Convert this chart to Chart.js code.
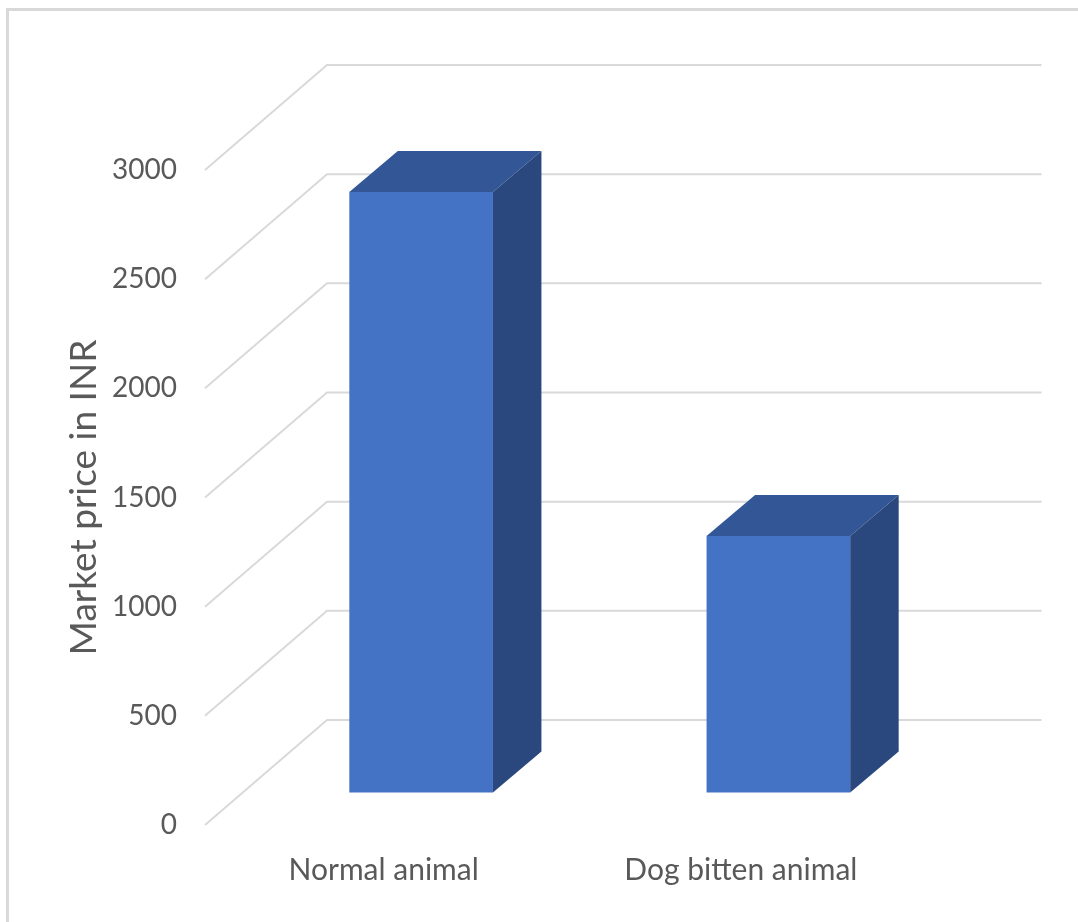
<!DOCTYPE html>
<html>
<head>
<meta charset="utf-8">
<script src="https://cdn.jsdelivr.net/npm/chart.js@4/dist/chart.umd.min.js"></script>
<style>
  html, body { margin: 0; padding: 0; background: #fff; }
  #frame { position: absolute; left: 6px; top: 8px; width: 1100px; height: 940px;
           border-top: 3px solid #d9d9d9; border-left: 3px solid #d9d9d9; }
  #wrap { position: absolute; left: 0; top: 0; width: 1078px; height: 922px; }
</style>
</head>
<body>
<div id="frame"></div>
<div id="wrap"><canvas id="chart" width="1078" height="922"></canvas></div>
<script>
// data
const categories = ['Normal animal', 'Dog bitten animal'];
const prices = [2750, 1175];
const yTicks = [0, 500, 1000, 1500, 2000, 2500, 3000];
const yTitle = 'Market price in INR';

// fake 3D: back wall offset, bar offset inside the box, bar depth
const wallDX = 122, wallDY = -105;
const barDX = 37.5, barDY = -32.5;
const sideDX = 48.5, sideDY = -41;

const textColor = '#595959';
const fontFamily = 'Lato, "Open Sans", sans-serif';

const box3d = {
  id: 'box3d',
  beforeDatasetsDraw(chart) {
    const { ctx, chartArea, scales: { y } } = chart;
    ctx.save();
    ctx.strokeStyle = '#d9d9d9';
    ctx.lineWidth = 2;
    y.ticks.forEach(t => {
      const py = y.getPixelForValue(t.value);
      ctx.beginPath();
      ctx.moveTo(chartArea.left, py);
      ctx.lineTo(chartArea.left + wallDX, py + wallDY);
      ctx.lineTo(chartArea.right + wallDX, py + wallDY);
      ctx.stroke();
    });
    ctx.restore();
    // bars sit a bit back inside the box
    ctx.save();
    ctx.translate(barDX, barDY);
  },
  afterDatasetsDraw(chart) {
    const { ctx } = chart;
    chart.getDatasetMeta(0).data.forEach(bar => {
      const { x, y, base, width } = bar.getProps(['x', 'y', 'base', 'width'], true);
      const l = x - width / 2, r = x + width / 2;
      // top face
      ctx.fillStyle = '#325696';
      ctx.beginPath();
      ctx.moveTo(l, y);
      ctx.lineTo(l + sideDX, y + sideDY);
      ctx.lineTo(r + sideDX, y + sideDY);
      ctx.lineTo(r, y);
      ctx.closePath();
      ctx.fill();
      // side face
      ctx.fillStyle = '#2a487e';
      ctx.beginPath();
      ctx.moveTo(r, y);
      ctx.lineTo(r + sideDX, y + sideDY);
      ctx.lineTo(r + sideDX, base + sideDY);
      ctx.lineTo(r, base);
      ctx.closePath();
      ctx.fill();
    });
    ctx.restore();
  }
};

new Chart(document.getElementById('chart'), {
  type: 'bar',
  data: {
    labels: categories,
    datasets: [{
      data: prices,
      backgroundColor: '#4472c4',
      borderWidth: 0,
      barPercentage: 0.402,
      categoryPercentage: 1,
      clip: false
    }]
  },
  options: {
    responsive: false,
    devicePixelRatio: 1,
    animation: false,
    layout: { padding: { left: 0, right: 158.5, top: 170, bottom: 37 } },
    plugins: { legend: { display: false }, tooltip: { enabled: false } },
    scales: {
      x: {
        grid: { display: false, drawTicks: false },
        border: { display: false },
        ticks: { color: textColor, font: { family: fontFamily, size: 30 }, padding: 27 },
        afterFit(scale) { scale.height = 60; }
      },
      y: {
        min: 0,
        max: 3000,
        grid: { display: false, drawTicks: false },
        border: { display: false },
        afterBuildTicks(scale) { scale.ticks = yTicks.map(v => ({ value: v })); },
        ticks: {
          color: textColor,
          font: { family: fontFamily, size: 28 },
          padding: 28,
          callback: v => String(v)
        },
        title: {
          display: true,
          text: yTitle,
          color: textColor,
          font: { family: fontFamily, size: 37 },
          padding: { top: 62, bottom: 0 }
        },
        afterFit(scale) { scale.width = 205; }
      }
    }
  },
  plugins: [box3d]
});
</script>
</body>
</html>
